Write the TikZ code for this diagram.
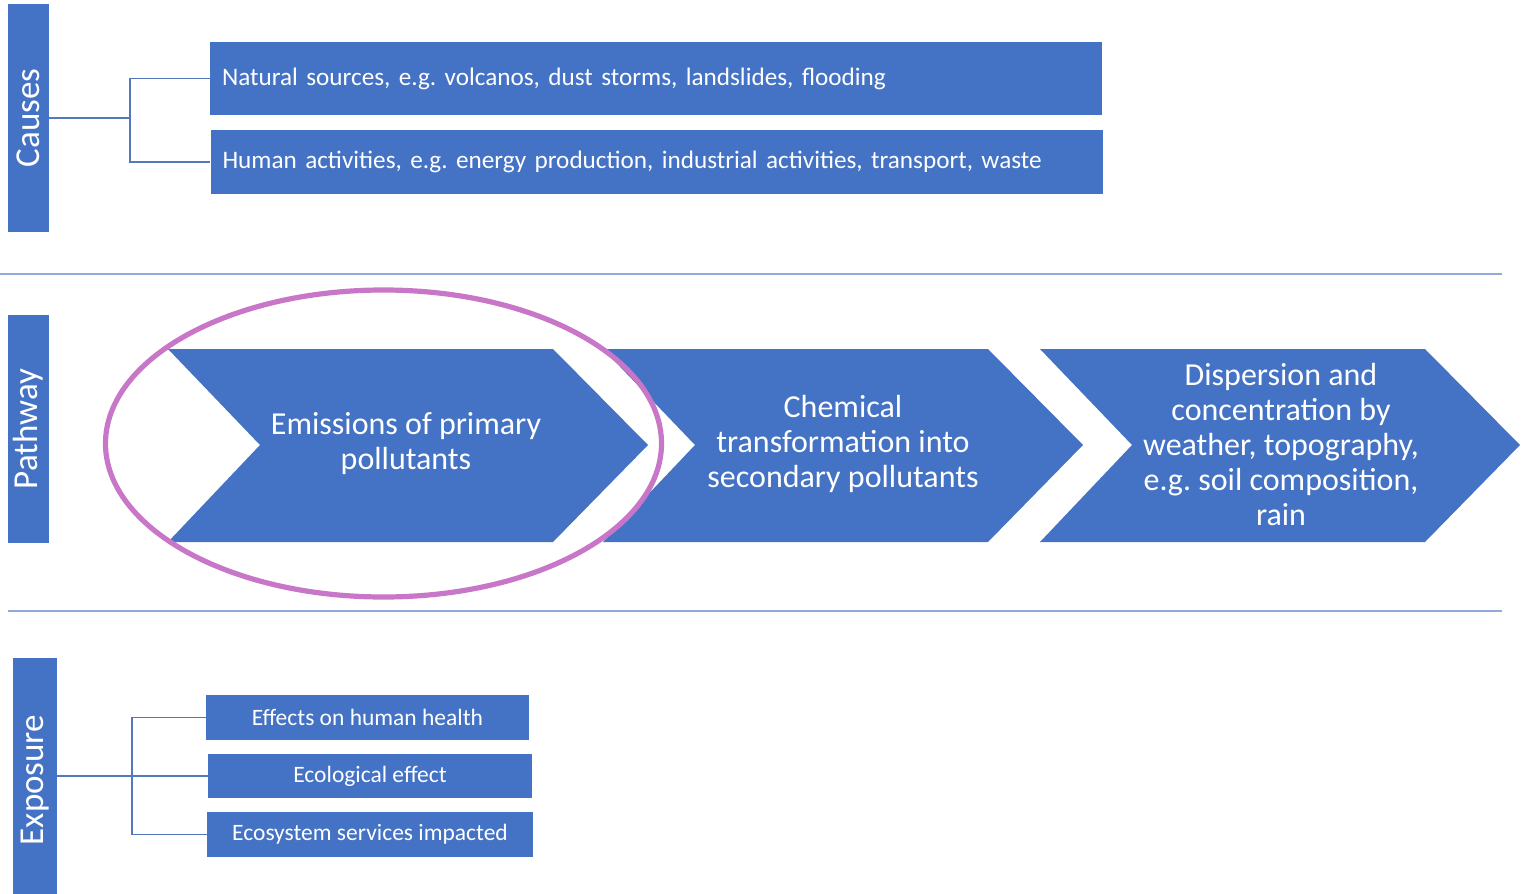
\documentclass[tikz,border=0pt]{standalone}
\usepackage{fontspec}
\setmainfont{Carlito}
\usepackage{tikz}
\definecolor{boxcol}{RGB}{68,114,196}
\definecolor{linecol}{RGB}{84,120,190}
\definecolor{sepcol}{RGB}{143,170,220}
\definecolor{ringcol}{RGB}{200,118,200}

\begin{document}
\frenchspacing
\begin{tikzpicture}[x=0.5pt, y=-0.5pt,
    sidebar/.style={fill=boxcol, text=white, rotate=90, inner sep=0pt,
        font=\fontsize{17.5}{20}\selectfont},
    causebox/.style={fill=boxcol, text=white, align=left, inner xsep=6pt, inner ysep=0pt,
        text width=434pt, font=\fontsize{12.6}{14}\selectfont},
    exbox/.style={fill=boxcol, text=white, align=center, inner sep=0pt,
        font=\fontsize{11.75}{14}\selectfont},
    chevtext/.style={text=white, align=center, font=\fontsize{16}{17.5}\selectfont},
    link/.style={linecol, line width=0.8pt},
    sep/.style={sepcol, line width=0.6pt}]

    \useasboundingbox (0,0) rectangle (1523,894);

    % side labels
    \node[sidebar, minimum width=114pt, minimum height=20.5pt] (causes) at (28.5,118) {Causes};
    \node[sidebar, minimum width=114pt, minimum height=20.5pt] (pathway) at (28.5,429) {Pathway};
    \node[sidebar, minimum width=122pt, minimum height=22pt] (exposure) at (35,780) {Exposure};

    % causes
    \node[causebox, minimum height=36.5pt] (natural) at (656,78.5)
        {Natural sources, e.g. volcanos, dust storms, landslides, flooding};
    \node[causebox, minimum height=32pt] (human) at (656.5,162)
        {Human activities, e.g. energy production, industrial activities, transport, waste};

    \coordinate (cj) at (130,118);
    \draw[link] (causes.south) -- (cj);
    \draw[link] (natural.west) -| (cj);
    \draw[link] (human.west) -| (cj);

    \draw[sep] (0,274) -- (1502,274);

    % pathway chevrons
    \foreach \l in {168,603,1040}
        \fill[boxcol] (\l,349) -- ++(385,0) -- ++(95,96) -- ++(-95,97) -- ++(-385,0) -- ++(92,-97) -- cycle;

    \node[chevtext] (emission) at (406,444) {Emissions of primary\\pollutants};
    \node[chevtext] (chemical) at (843,444) {Chemical\\transformation into\\secondary pollutants};
    \node[chevtext] (dispersion) at (1281,445) {Dispersion and\\concentration by\\weather, topography,\\e.g. soil composition,\\rain};

    \draw[ringcol, line width=2.6pt] (383.5,443.5) ellipse [x radius=278, y radius=153.5];

    \draw[sep] (8,611) -- (1502,611);

    % exposure
    \node[exbox, minimum width=161.5pt, minimum height=22.5pt] (health) at (367.5,717.5) {Effects on human health};
    \node[exbox, minimum width=162pt, minimum height=22pt] (ecology) at (370,776) {Ecological effect};
    \node[exbox, minimum width=163pt, minimum height=22.5pt] (services) at (370,834.5) {Ecosystem services impacted};

    \coordinate (ej) at (132,776);
    \draw[link] (ecology.west) -- (ecology.west -| exposure.south);
    \draw[link] (health.west) -| (ej);
    \draw[link] (services.west) -| (ej);

\end{tikzpicture}
\end{document}
